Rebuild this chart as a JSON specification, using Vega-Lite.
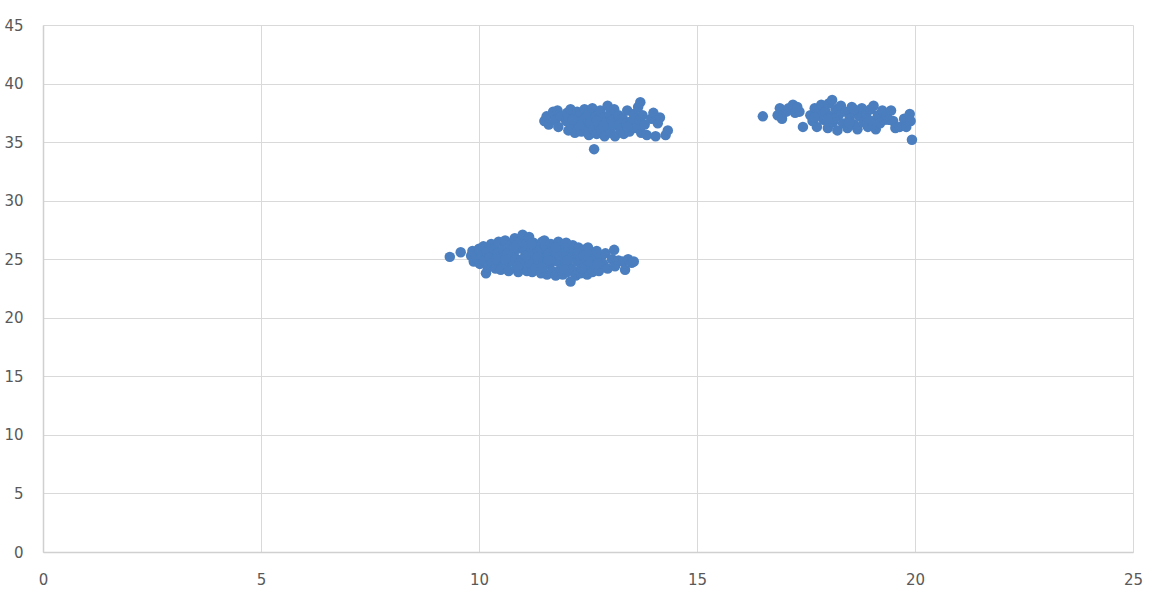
{
  "$schema": "https://vega.github.io/schema/vega-lite/v6.json",
  "width": 1090,
  "height": 527,
  "autosize": "none",
  "padding": {"left": 43, "top": 25, "right": 17, "bottom": 42},
  "background": "white",
  "config": {"view": {"stroke": null}},
  "data": {"values": [
    {"x":9.33,"y":25.2},{"x":9.58,"y":25.6},{"x":9.82,"y":25.3},{"x":9.85,"y":25.7},{"x":9.88,"y":24.8},{"x":9.95,"y":25.1},{"x":10.0,"y":25.9},{"x":10.02,"y":24.6},{"x":10.05,"y":25.4},{"x":10.1,"y":26.1},{"x":10.12,"y":24.9},{"x":10.16,"y":23.8},{"x":10.18,"y":25.6},{"x":10.2,"y":24.3},{"x":10.25,"y":25.2},{"x":10.28,"y":26.3},{"x":10.3,"y":24.7},{"x":10.35,"y":25.9},{"x":10.38,"y":24.2},{"x":10.42,"y":25.5},{"x":10.45,"y":26.5},{"x":10.48,"y":24.9},{"x":10.5,"y":24.1},{"x":10.55,"y":25.8},{"x":10.58,"y":25.2},{"x":10.6,"y":26.6},{"x":10.62,"y":24.5},{"x":10.68,"y":24.0},{"x":10.7,"y":25.6},{"x":10.72,"y":26.2},{"x":10.75,"y":24.8},{"x":10.8,"y":25.3},{"x":10.82,"y":26.8},{"x":10.85,"y":24.2},{"x":10.88,"y":25.9},{"x":10.9,"y":23.9},{"x":10.95,"y":26.5},{"x":10.98,"y":25.0},{"x":11.0,"y":27.1},{"x":11.02,"y":24.5},{"x":11.05,"y":25.7},{"x":11.08,"y":26.3},{"x":11.1,"y":24.0},{"x":11.12,"y":25.2},{"x":11.15,"y":26.9},{"x":11.18,"y":24.7},{"x":11.2,"y":25.9},{"x":11.22,"y":23.9},{"x":11.25,"y":26.4},{"x":11.28,"y":25.4},{"x":11.3,"y":24.3},{"x":11.33,"y":26.0},{"x":11.36,"y":24.9},{"x":11.4,"y":25.6},{"x":11.42,"y":23.8},{"x":11.45,"y":26.5},{"x":11.48,"y":24.4},{"x":11.5,"y":25.1},{"x":11.53,"y":26.1},{"x":11.56,"y":23.7},{"x":11.6,"y":25.5},{"x":11.62,"y":24.6},{"x":11.65,"y":26.3},{"x":11.68,"y":24.0},{"x":11.7,"y":25.0},{"x":11.73,"y":25.8},{"x":11.76,"y":23.6},{"x":11.8,"y":24.8},{"x":11.82,"y":26.5},{"x":11.85,"y":25.3},{"x":11.88,"y":24.2},{"x":11.9,"y":25.9},{"x":11.92,"y":23.7},{"x":11.95,"y":26.3},{"x":11.98,"y":24.6},{"x":12.0,"y":25.5},{"x":12.02,"y":23.9},{"x":12.05,"y":26.0},{"x":12.08,"y":24.3},{"x":12.1,"y":23.1},{"x":12.12,"y":25.2},{"x":12.15,"y":26.2},{"x":12.18,"y":24.0},{"x":12.2,"y":25.7},{"x":12.22,"y":23.6},{"x":12.25,"y":24.8},{"x":12.28,"y":26.0},{"x":12.3,"y":25.3},{"x":12.33,"y":23.8},{"x":12.36,"y":24.5},{"x":12.4,"y":25.8},{"x":12.42,"y":24.1},{"x":12.45,"y":25.1},{"x":12.48,"y":23.7},{"x":12.5,"y":26.0},{"x":12.55,"y":24.6},{"x":12.58,"y":25.4},{"x":12.6,"y":23.9},{"x":12.65,"y":25.0},{"x":12.68,"y":24.3},{"x":12.7,"y":25.7},{"x":12.75,"y":24.0},{"x":12.8,"y":25.2},{"x":12.85,"y":24.6},{"x":12.9,"y":25.5},{"x":12.95,"y":24.2},{"x":13.05,"y":25.0},{"x":13.1,"y":25.8},{"x":13.12,"y":24.4},{"x":13.2,"y":24.9},{"x":13.3,"y":24.8},{"x":13.35,"y":24.1},{"x":13.42,"y":25.0},{"x":13.5,"y":24.7},{"x":13.55,"y":24.8},
    {"x":10.4,"y":25.0},{"x":10.65,"y":25.5},{"x":10.92,"y":24.6},{"x":11.07,"y":25.3},{"x":11.35,"y":25.2},{"x":11.58,"y":24.9},{"x":11.78,"y":25.6},{"x":12.03,"y":24.9},{"x":12.26,"y":25.5},{"x":12.52,"y":24.8},{"x":12.72,"y":24.6},{"x":10.88,"y":24.4},{"x":11.43,"y":24.3},{"x":11.95,"y":24.1},{"x":12.35,"y":24.2},{"x":10.6,"y":25.0},{"x":11.2,"y":26.3},{"x":11.75,"y":26.0},{"x":12.4,"y":25.3},{"x":12.0,"y":26.4},{"x":11.5,"y":26.6},{"x":10.8,"y":26.0},
    {"x":11.5,"y":36.8},{"x":11.55,"y":37.2},{"x":11.6,"y":36.5},{"x":11.7,"y":37.6},{"x":11.75,"y":36.9},{"x":11.8,"y":37.7},{"x":11.82,"y":36.3},{"x":11.88,"y":37.2},{"x":12.0,"y":36.8},{"x":12.02,"y":37.5},{"x":12.05,"y":36.0},{"x":12.1,"y":37.8},{"x":12.12,"y":36.4},{"x":12.18,"y":37.1},{"x":12.2,"y":35.8},{"x":12.25,"y":37.6},{"x":12.28,"y":36.6},{"x":12.32,"y":37.3},{"x":12.35,"y":35.9},{"x":12.4,"y":36.9},{"x":12.42,"y":37.8},{"x":12.45,"y":36.2},{"x":12.5,"y":37.4},{"x":12.52,"y":35.6},{"x":12.55,"y":36.7},{"x":12.6,"y":37.9},{"x":12.62,"y":36.1},{"x":12.64,"y":34.4},{"x":12.68,"y":37.2},{"x":12.7,"y":35.7},{"x":12.75,"y":36.5},{"x":12.78,"y":37.7},{"x":12.8,"y":36.0},{"x":12.85,"y":37.1},{"x":12.88,"y":35.5},{"x":12.9,"y":36.7},{"x":12.95,"y":38.1},{"x":12.98,"y":36.3},{"x":13.0,"y":37.4},{"x":13.02,"y":35.8},{"x":13.08,"y":36.9},{"x":13.1,"y":37.8},{"x":13.12,"y":35.5},{"x":13.18,"y":36.4},{"x":13.2,"y":37.3},{"x":13.25,"y":36.0},{"x":13.3,"y":37.0},{"x":13.32,"y":35.7},{"x":13.38,"y":36.6},{"x":13.4,"y":37.7},{"x":13.45,"y":35.9},{"x":13.5,"y":36.8},{"x":13.55,"y":37.4},{"x":13.6,"y":36.2},{"x":13.65,"y":38.0},{"x":13.68,"y":36.9},{"x":13.7,"y":38.4},{"x":13.72,"y":35.8},{"x":13.75,"y":37.3},{"x":13.8,"y":36.5},{"x":13.85,"y":35.6},{"x":13.95,"y":37.0},{"x":14.0,"y":37.5},{"x":14.05,"y":35.5},{"x":14.1,"y":36.6},{"x":14.15,"y":37.1},{"x":14.28,"y":35.6},{"x":14.33,"y":36.0},{"x":12.3,"y":36.4},{"x":12.7,"y":36.8},{"x":13.0,"y":36.5},{"x":13.4,"y":36.3},{"x":12.15,"y":36.9},{"x":12.85,"y":36.4},
    {"x":16.51,"y":37.2},{"x":16.85,"y":37.3},{"x":16.9,"y":37.9},{"x":16.95,"y":37.0},{"x":17.05,"y":37.6},{"x":17.1,"y":37.9},{"x":17.2,"y":38.2},{"x":17.25,"y":37.5},{"x":17.3,"y":38.0},{"x":17.35,"y":37.6},{"x":17.43,"y":36.3},{"x":17.6,"y":37.3},{"x":17.65,"y":36.8},{"x":17.7,"y":37.9},{"x":17.75,"y":36.3},{"x":17.8,"y":37.5},{"x":17.85,"y":38.2},{"x":17.9,"y":36.9},{"x":17.95,"y":37.6},{"x":18.0,"y":36.2},{"x":18.02,"y":38.3},{"x":18.05,"y":37.2},{"x":18.1,"y":38.6},{"x":18.12,"y":36.7},{"x":18.18,"y":37.8},{"x":18.22,"y":36.0},{"x":18.25,"y":37.3},{"x":18.3,"y":38.1},{"x":18.35,"y":36.6},{"x":18.4,"y":37.6},{"x":18.45,"y":36.2},{"x":18.5,"y":37.0},{"x":18.55,"y":38.0},{"x":18.6,"y":36.5},{"x":18.62,"y":37.5},{"x":18.68,"y":36.1},{"x":18.72,"y":37.2},{"x":18.78,"y":37.9},{"x":18.82,"y":36.7},{"x":18.88,"y":37.4},{"x":18.92,"y":36.3},{"x":18.98,"y":37.8},{"x":19.0,"y":36.8},{"x":19.05,"y":38.1},{"x":19.1,"y":36.1},{"x":19.15,"y":37.3},{"x":19.2,"y":36.6},{"x":19.25,"y":37.7},{"x":19.3,"y":36.9},{"x":19.35,"y":37.3},{"x":19.45,"y":37.7},{"x":19.5,"y":36.8},{"x":19.55,"y":36.2},{"x":19.65,"y":36.3},{"x":19.75,"y":37.0},{"x":19.8,"y":36.3},{"x":19.88,"y":37.4},{"x":19.9,"y":36.8},{"x":19.93,"y":35.2},{"x":17.7,"y":37.1},{"x":18.15,"y":37.0},{"x":18.5,"y":36.6},{"x":18.9,"y":37.0},{"x":19.4,"y":36.9},{"x":18.0,"y":37.0},{"x":18.6,"y":37.8}
  ]},
  "mark": {"type": "circle", "size": 110, "opacity": 1, "color": "#4a7ebf"},
  "encoding": {
    "x": {"field": "x", "type": "quantitative", "title": null,
      "scale": {"domain": [0, 25], "nice": false, "zero": true},
      "axis": {"values": [0,5,10,15,20,25], "grid": true, "gridColor": "#d9d9d9", "ticks": false,
        "labelFlush": false, "domainColor": "#d0d0d0", "domainWidth": 1.5, "labelColor": "#595959", "labelFont": "DejaVu Sans",
        "labelFontSize": 15, "labelPadding": 20}},
    "y": {"field": "y", "type": "quantitative", "title": null,
      "scale": {"domain": [0, 45], "nice": false, "zero": true},
      "axis": {"values": [0,5,10,15,20,25,30,35,40,45], "grid": true, "gridColor": "#d9d9d9", "ticks": false,
        "labelFlush": false, "domainColor": "#d0d0d0", "domainWidth": 1.5, "labelColor": "#595959", "labelFont": "DejaVu Sans",
        "labelFontSize": 15, "labelPadding": 20}}
  }
}
